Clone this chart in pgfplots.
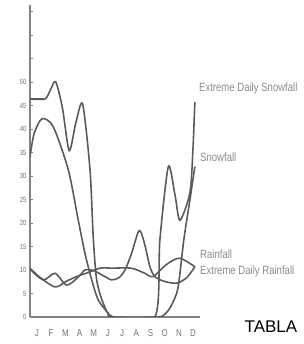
\documentclass[border=0pt]{standalone}
\usepackage{pgfplots}
\pgfplotsset{compat=1.18}
\usepackage{fontspec}
\setmainfont{Liberation Sans}
\newfontfamily\narrow[FakeStretch=0.8]{Liberation Sans}
\definecolor{ln}{RGB}{90,90,90}
\definecolor{ax}{RGB}{130,130,130}
\definecolor{tx}{RGB}{140,140,140}
\definecolor{tk}{RGB}{115,115,115}
\begin{document}
\begin{tikzpicture}
\path[use as bounding box] (0,0) rectangle (304bp,344bp);
\begin{axis}[at={(30bp,27bp)}, anchor=south west, scale only axis,
  width=170bp, height=312bp,
  xmin=0, xmax=11.27, ymin=0, ymax=66.4,
  axis x line=bottom, axis y line=left,
  axis line style={ax, line width=1.8pt, -},
  clip mode=individual,
  ytick={0,5,10,15,20,25,30,35,40,45,50,55,60,65},
  yticklabels={0,5,10,15,20,25,30,35,40,45,50,{},{},{}},
  tick align=inside, major tick length=2.5bp,
  ytick style={ax, line width=0.6pt},
  y tick label style={font=\narrow\fontsize{7.5}{7.5}\selectfont, text=tk},
  xtick={0.46,1.40,2.35,3.29,4.23,5.17,6.11,7.05,7.99,8.93,9.87,10.80},
  xticklabels={J,F,M,A,M,J,J,A,S,O,N,D},
  xtick style={draw=none},
  x tick label style={font=\narrow\fontsize{10}{10}\selectfont, text=tk, yshift=-9bp},
]
% Extreme Daily Snowfall
\addplot[ln, line width=1.6pt, smooth, tension=0.45] coordinates {
(0,46.4)(0.99,46.4)(1.35,48.3)(1.70,50.1)(2.15,44.5)(2.60,35.4)(3.05,41.5)(3.49,45.3)
(3.98,31.3)(4.19,17.1)(4.42,7.9)(4.86,2.9)(5.52,0)(8.28,0)(8.61,16.4)(9.17,32)
(9.61,26)(9.94,20.6)(10.6,26.4)(10.8,35.5)(10.93,45.8)};
\addplot[ln, line width=2.8pt] coordinates {(0,46.4)(0.95,46.4)};
% Snowfall
\addplot[ln, line width=1.6pt, smooth, tension=0.45] coordinates {
(0,34.1)(0.27,39)(0.8,42.2)(1.54,40.5)(2.54,31.3)(3.2,20.6)(3.64,13.6)(4.09,7.9)
(4.53,3.6)(5.19,0.8)(5.41,0)(8.45,0)(9.0,0.8)(9.39,2.6)(9.81,6.2)(10.2,16.5)(10.6,24.9)(10.93,32)};
% Rainfall
\addplot[ln, line width=1.6pt, smooth, tension=0.5] coordinates {
(0,10.4)(0.6,8.6)(1.66,6.4)(2.4,7.6)(3.09,8.6)(3.98,9.6)(4.64,10.4)(5.5,10.4)(6.7,10.4)
(7.55,9.4)(8.15,8.6)(8.9,10.8)(9.5,12.1)(9.94,12.5)(10.5,11.6)(10.93,10.7)};
% Extreme Daily Rainfall
\addplot[ln, line width=1.6pt, smooth, tension=0.5] coordinates {
(0,10.2)(0.88,7.9)(1.66,9.3)(2.43,6.8)(3.2,8.5)(3.64,10.0)(4.2,9.9)(4.8,8.9)(5.41,7.9)
(5.9,8.4)(6.3,10.0)(6.74,13.6)(7.24,18.4)(7.6,15.5)(7.95,10.7)(8.28,8.6)(8.9,7.6)
(9.72,7.2)(10.4,8.4)(10.93,10.7)};
\node[anchor=west, inner sep=0, text=tx, font=\narrow\fontsize{12}{12}\selectfont] at (axis cs:11.2,48.7) {Extreme Daily Snowfall};
\node[anchor=west, inner sep=0, text=tx, font=\narrow\fontsize{12}{12}\selectfont] at (axis cs:11.27,34.0) {Snowfall};
\node[anchor=west, inner sep=0, text=tx, font=\narrow\fontsize{12}{12}\selectfont] at (axis cs:11.27,13.4) {Rainfall};
\node[anchor=west, inner sep=0, text=tx, font=\narrow\fontsize{12}{12}\selectfont] at (axis cs:11.27,9.6) {Extreme Daily Rainfall};
\node[inner sep=0, text=black, font=\fontsize{17}{17}\selectfont] at (axis cs:15.97,-2.1) {TABLA};
\end{axis}
\end{tikzpicture}
\end{document}
